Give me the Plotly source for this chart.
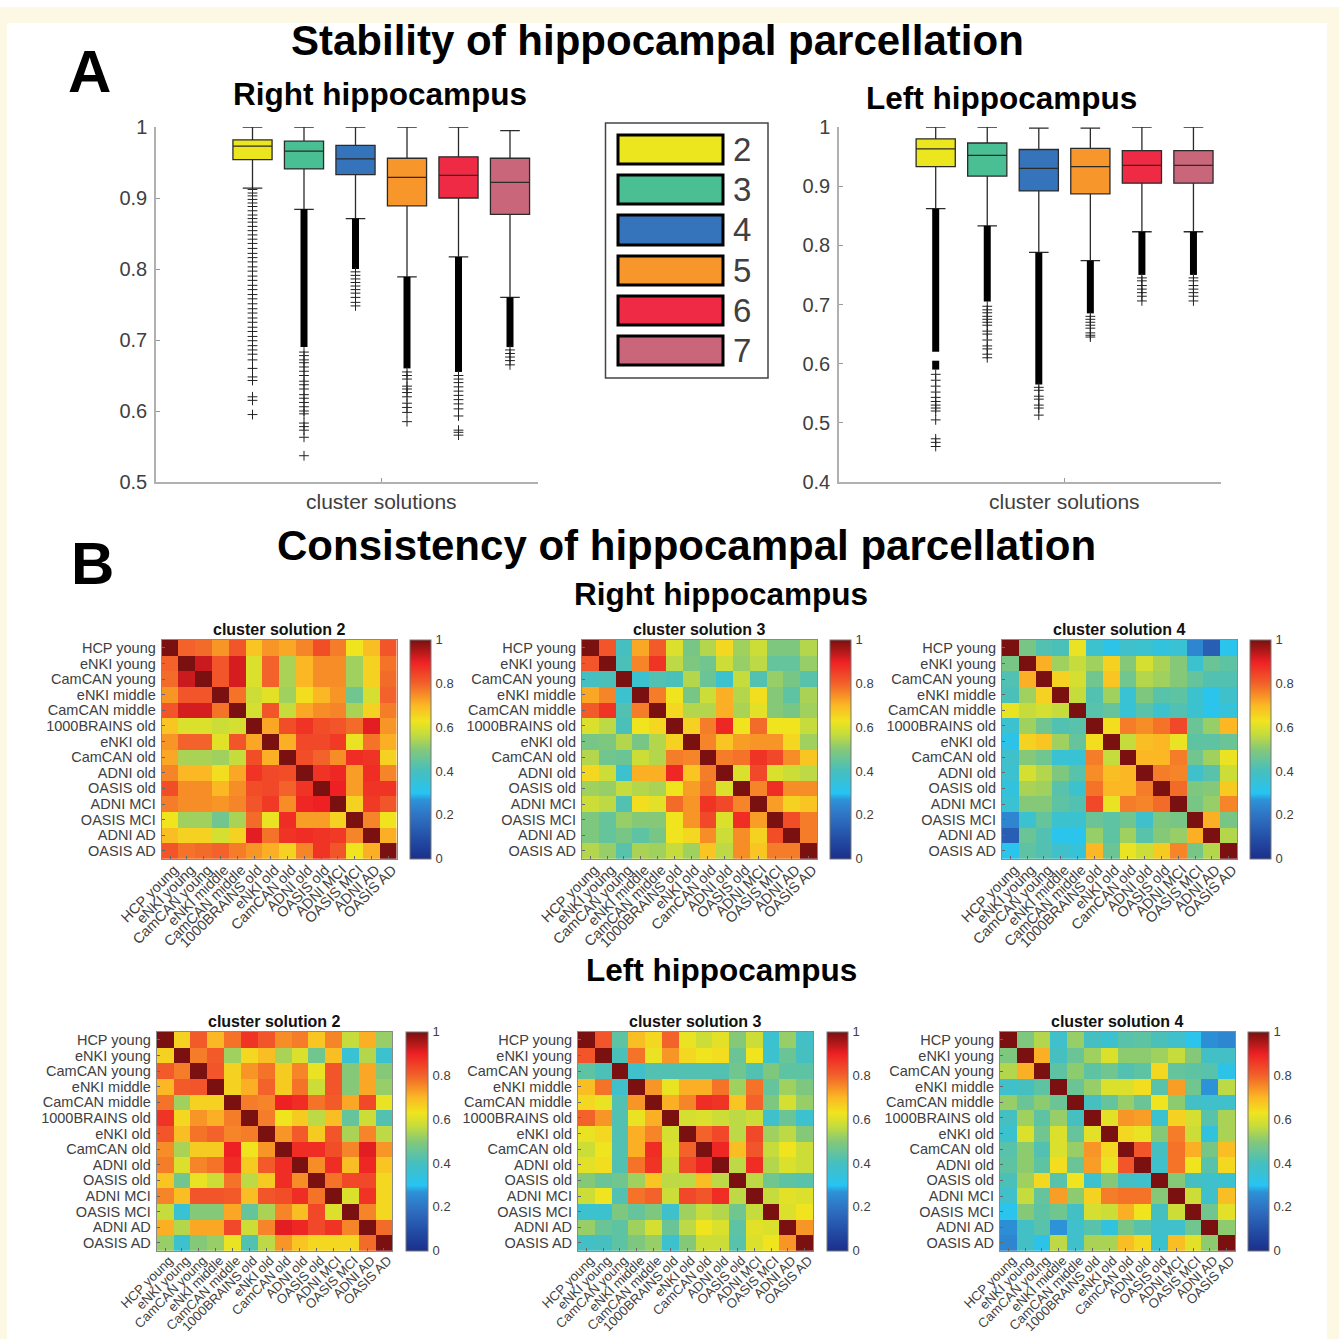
import plotly.graph_objects as go

W = H = 1339
FONT = "Liberation Sans"
GREY = "#404040"

regions = ["HCP young", "eNKI young", "CamCAN young", "eNKI middle", "CamCAN middle",
           "1000BRAINS old", "eNKI old", "CamCAN old", "ADNI old", "OASIS old",
           "ADNI MCI", "OASIS MCI", "ADNI AD", "OASIS AD"]
solutions = ["2", "3", "4", "5", "6", "7"]
box_colors = ["#ebe61e", "#4bbf94", "#3573ba", "#f7962a", "#ee2a45", "#c9667a"]

# Panel A, right hippocampus
r_q3 = [.982, .980, .974, .956, .958, .956]
r_med = [.973, .966, .955, .929, .932, .922]
r_q1 = [.954, .941, .933, .889, .900, .877]
r_hi = [1.0, 1.0, 1.0, 1.0, 1.0, .995]
r_lo = [.914, .884, .871, .789, .817, .760]
r_bands = [[], [(.884, .69)], [(.871, .80)], [(.789, .66)], [(.817, .655)], [(.76, .69)]]
r_out = [
    [.912, .907, .903, .898, .893, .888, .882, .876, .871, .866, .860, .854, .848, .842, .836, .829,
     .822, .816, .810, .803, .797, .790, .784, .777, .771, .764, .758, .751, .744, .738, .731, .725,
     .718, .712, .705, .699, .692, .686, .680, .672, .660, .648, .643, .620, .615, .595],
    [.683, .678, .672, .668, .662, .656, .650, .642, .637, .631, .623, .618, .612, .606, .600, .596,
     .583, .578, .573, .563, .537],
    [.796, .791, .786, .781, .776, .771, .766, .760, .753, .748],
    [.655, .650, .645, .635, .631, .626, .620, .611, .605, .598, .585],
    [.650, .645, .640, .634, .628, .622, .616, .610, .603, .593, .573, .570, .566],
    [.686, .681, .676, .671, .665],
]

# Panel A, left hippocampus
l_q3 = [.980, .973, .962, .964, .960, .960]
l_med = [.963, .952, .930, .933, .935, .935]
l_q1 = [.933, .917, .892, .887, .905, .905]
l_hi = [1.0, 1.0, .998, .998, 1.0, 1.0]
l_lo = [.862, .833, .788, .774, .823, .823]
l_bands = [[(.862, .62), (.605, .59)], [(.833, .705)], [(.788, .565)], [(.774, .685)], [(.823, .75)], [(.823, .75)]]
l_out = [
    [.582, .572, .562, .552, .543, .536, .530, .525, .520, .505, .473, .467, .460],
    [.697, .691, .686, .680, .675, .670, .665, .655, .650, .640, .630, .625, .616, .610],
    [.560, .555, .545, .540, .530, .525, .513],
    [.680, .675, .670, .665, .660, .652, .648, .645],
    [.745, .740, .732, .726, .720, .714, .706],
    [.745, .740, .732, .726, .720, .714, .706],
]

# Panel B: upper triangles read row by row
right_2 = [
    [1, .80, .79, .74, .82, .68, .74, .72, .76, .83, .77, .63, .69, .82],
    [1, .93, .82, .92, .60, .80, .54, .70, .75, .75, .53, .66, .78],
    [1, .82, .92, .60, .80, .54, .70, .75, .75, .53, .66, .79],
    [1, .78, .58, .61, .53, .64, .70, .74, .47, .59, .80],
    [1, .59, .82, .57, .72, .75, .76, .54, .66, .77],
    [1, .72, .83, .87, .83, .82, .79, .91, .74],
    [1, .71, .84, .84, .86, .62, .78, .71],
    [1, .83, .80, .75, .88, .87, .66],
    [1, .87, .89, .73, .88, .76],
    [1, .90, .73, .87, .87],
    [1, .66, .86, .82],
    [1, .76, .63],
    [1, .71],
    [1],
]
right_3 = [
    [1, .82, .40, .72, .81, .60, .48, .55, .65, .53, .58, .49, .49, .55],
    [1, .41, .76, .87, .56, .49, .47, .58, .52, .56, .45, .45, .52],
    [1, .37, .42, .41, .55, .46, .37, .57, .42, .52, .48, .43],
    [1, .77, .63, .48, .58, .71, .55, .64, .50, .44, .54],
    [1, .65, .55, .55, .71, .54, .61, .50, .48, .53],
    [1, .66, .77, .89, .63, .79, .63, .63, .57],
    [1, .76, .68, .73, .74, .74, .65, .53],
    [1, .77, .78, .87, .84, .75, .68],
    [1, .60, .84, .60, .58, .56],
    [1, .76, .88, .75, .75],
    [1, .73, .66, .68],
    [1, .83, .77],
    [1, .77],
    [1],
]
right_4 = [
    [1, .48, .42, .41, .62, .37, .32, .38, .37, .34, .36, .24, .14, .31],
    [1, .71, .53, .57, .53, .66, .50, .59, .54, .50, .37, .46, .44],
    [1, .66, .59, .47, .68, .47, .55, .53, .50, .45, .42, .42],
    [1, .57, .42, .53, .36, .49, .43, .44, .37, .31, .38],
    [1, .43, .45, .36, .43, .37, .42, .37, .31, .35],
    [1, .64, .77, .75, .78, .84, .46, .52, .70],
    [1, .57, .69, .70, .62, .44, .44, .46],
    [1, .70, .70, .77, .47, .53, .62],
    [1, .77, .76, .38, .43, .58],
    [1, .79, .49, .50, .67],
    [1, .48, .52, .76],
    [1, .71, .48],
    [1, .55],
    [1],
]
left_2 = [
    [1, .66, .81, .70, .78, .87, .82, .75, .77, .68, .76, .57, .71, .52],
    [1, .77, .81, .53, .65, .69, .54, .60, .47, .69, .36, .55, .37],
    [1, .82, .66, .74, .78, .67, .76, .62, .82, .50, .72, .50],
    [1, .66, .71, .80, .67, .78, .58, .82, .50, .72, .52],
    [1, .77, .76, .90, .88, .78, .81, .72, .84, .62],
    [1, .77, .63, .67, .56, .69, .45, .58, .42],
    [1, .74, .81, .67, .82, .54, .76, .56],
    [1, .88, .88, .83, .76, .91, .74],
    [1, .75, .88, .69, .89, .68],
    [1, .78, .84, .84, .65],
    [1, .60, .87, .65],
    [1, .76, .65],
    [1, .79],
    [1],
]
left_3 = [
    [1, .82, .44, .69, .65, .80, .62, .58, .61, .50, .58, .37, .52, .39],
    [1, .41, .78, .62, .74, .65, .63, .64, .46, .63, .37, .46, .40],
    [1, .38, .42, .42, .42, .42, .42, .47, .42, .49, .44, .44],
    [1, .74, .62, .71, .71, .78, .53, .78, .45, .53, .49],
    [1, .71, .76, .88, .87, .68, .80, .49, .59, .52],
    [1, .59, .60, .58, .56, .58, .38, .46, .37],
    [1, .80, .84, .56, .84, .53, .56, .50],
    [1, .89, .69, .82, .57, .63, .58],
    [1, .56, .88, .55, .60, .58],
    [1, .56, .47, .44, .43],
    [1, .57, .61, .60],
    [1, .60, .63],
    [1, .74],
    [1],
]
left_4 = [
    [1, .49, .55, .38, .52, .40, .37, .43, .44, .41, .38, .31, .26, .24],
    [1, .71, .40, .46, .53, .60, .51, .51, .53, .57, .50, .39, .39],
    [1, .44, .51, .44, .47, .42, .44, .65, .45, .44, .43, .32],
    [1, .46, .52, .60, .60, .64, .43, .73, .47, .27, .56],
    [1, .40, .45, .52, .46, .63, .51, .39, .38, .38],
    [1, .61, .74, .73, .37, .66, .59, .43, .54],
    [1, .65, .62, .50, .77, .58, .34, .54],
    [1, .82, .40, .78, .71, .48, .69],
    [1, .38, .78, .63, .43, .65],
    [1, .50, .40, .38, .37],
    [1, .58, .38, .69],
    [1, .47, .61],
    [1, .51],
    [1],
]

colorscale = [[0, "#1b2f8c"], [.1, "#2450a8"], [.2, "#2f74c4"], [.27, "#2c93d8"], [.3, "#27c4f2"],
              [.4, "#45bfc0"], [.5, "#84c878"], [.57, "#c6dc3c"], [.63, "#f0e41e"], [.7, "#fbb824"],
              [.8, "#f2622a"], [.9, "#ee2024"], [.95, "#b01818"], [1, "#7a1010"]]


def px(x):
    return x / W


def py(y):
    return 1 - y / H


def full(tri):
    n = len(tri)
    m = [[0] * n for _ in range(n)]
    for i, row in enumerate(tri):
        for k, v in enumerate(row):
            m[i][i + k] = v
            m[i + k][i] = v
    return m


fig = go.Figure()
layout = {}
annotations = []

# ---------- Panel A ----------
A_PANELS = [
    dict(q3=r_q3, med=r_med, q1=r_q1, hi=r_hi, lo=r_lo, bands=r_bands, out=r_out,
         x0=156, x1=538, first=252.5, step=51.5, ymin=.5, label_x=381),
    dict(q3=l_q3, med=l_med, q1=l_q1, hi=l_hi, lo=l_lo, bands=l_bands, out=l_out,
         x0=839, x1=1221, first=935.7, step=51.55, ymin=.4, label_x=1064.5),
]
for p, P in enumerate(A_PANELS):
    ax = p + 1
    xa, ya = ("x", "y") if ax == 1 else (f"x{ax}", f"y{ax}")
    pos = list(range(1, 7))
    for k in range(6):
        for top, bot in P["bands"][k]:
            fig.add_trace(go.Scatter(x=[pos[k], pos[k]], y=[top, bot], mode="lines", xaxis=xa, yaxis=ya,
                                     line=dict(color="black", width=7), showlegend=False, hoverinfo="skip"))
        fig.add_trace(go.Scatter(x=[pos[k]] * len(P["out"][k]), y=P["out"][k], mode="markers", xaxis=xa, yaxis=ya,
                                 marker=dict(symbol="cross-thin", size=7, line=dict(color="#222222", width=1)),
                                 showlegend=False, hoverinfo="skip"))
        fig.add_trace(go.Box(x=[pos[k]], q1=[P["q1"][k]], median=[P["med"][k]], q3=[P["q3"][k]],
                             lowerfence=[P["lo"][k]], upperfence=[P["hi"][k]], boxpoints=False,
                             width=.76, whiskerwidth=.5, fillcolor=box_colors[k],
                             line=dict(color="#2b2b2b", width=1.3), xaxis=xa, yaxis=ya,
                             showlegend=False, name=solutions[k]))
    lo_k = (P["x0"] - P["first"]) / P["step"] + 1
    hi_k = (P["x1"] - P["first"]) / P["step"] + 1
    layout["xaxis" if ax == 1 else f"xaxis{ax}"] = dict(
        domain=[px(P["x0"]), px(P["x1"])], range=[lo_k, hi_k], anchor=ya,
        tickmode="array", tickvals=[3.5], ticktext=[""], ticks="inside", ticklen=4, tickcolor="#999999",
        showline=True, linecolor="#b0b0b0", linewidth=1.5, showgrid=False, zeroline=False)
    annotations.append(dict(text="cluster solutions", x=px(P["label_x"]), y=py(502), xref="paper", yref="paper",
                            showarrow=False, xanchor="center", yanchor="middle",
                            font=dict(family=FONT, size=21, color=GREY)))
    ticks = [P["ymin"] + .1 * i for i in range(int(round((1 - P["ymin"]) * 10)) + 1)]
    layout["yaxis" if ax == 1 else f"yaxis{ax}"] = dict(
        domain=[py(482), py(127)], range=[P["ymin"], 1], anchor=xa,
        tickmode="array", tickvals=ticks, ticktext=[f"{t:.1f}" if t < .99 else "1" for t in ticks],
        ticks="inside", ticklen=4, tickcolor="#999999", tickfont=dict(family=FONT, size=20, color=GREY),
        ticklabelstandoff=3,
        showline=True, linecolor="#b0b0b0", linewidth=1.5, showgrid=False, zeroline=False)

# ---------- Panel B ----------
B_PANELS = [
    (right_2, "cluster solution 2", 161.7, 396.7, 640, 858.7, 410, 430.7, 14.5),
    (right_3, "cluster solution 3", 582, 817, 640, 858.7, 830, 851, 14.5),
    (right_4, "cluster solution 4", 1002, 1237, 640, 858.7, 1250, 1271, 14.5),
    (left_2, "cluster solution 2", 156.7, 392.3, 1032, 1250.7, 405.7, 428, 13.2),
    (left_3, "cluster solution 3", 578, 813, 1032, 1250.7, 827, 848, 13.2),
    (left_4, "cluster solution 4", 1000, 1235, 1032, 1250.7, 1248, 1269, 13.2),
]
for p, (tri, title, x0, x1, y0, y1, c0, c1, xfont) in enumerate(B_PANELS):
    ax = p + 3
    xa, ya = f"x{ax}", f"y{ax}"
    fig.add_trace(go.Heatmap(
        z=full(tri), x=regions, y=regions, zmin=0, zmax=1, colorscale=colorscale, xaxis=xa, yaxis=ya,
        colorbar=dict(x=px(c0), xanchor="left", xpad=0, y=py(y1), yanchor="bottom", ypad=0,
                      len=(y1 - y0) / H, lenmode="fraction", thickness=c1 - c0, thicknessmode="pixels",
                      tickmode="array", tickvals=[0, .2, .4, .6, .8, 1], ticktext=["0", "0.2", "0.4", "0.6", "0.8", "1"],
                      ticks="outside", ticklen=2, tickcolor="rgba(0,0,0,0)",
                      tickfont=dict(family=FONT, size=13, color=GREY), outlinecolor="#777777", outlinewidth=1)))
    layout[f"xaxis{ax}"] = dict(domain=[px(x0), px(x1)], anchor=ya, tickangle=-45, ticks="inside", ticklen=3,
                                tickcolor="#666666", tickfont=dict(family=FONT, size=xfont, color=GREY),
                                ticklabelshift=4, ticklabelstandoff=-4,
                                showline=True, mirror=True, linecolor="#8a8a8a", linewidth=1, showgrid=False,
                                tickmode="array", tickvals=regions, ticktext=regions)
    layout[f"yaxis{ax}"] = dict(domain=[py(y1), py(y0)], anchor=xa, autorange="reversed", ticks="inside", ticklen=3,
                                tickcolor="#666666", tickfont=dict(family=FONT, size=14.5, color=GREY),
                                ticklabelstandoff=2,
                                showline=True, mirror=True, linecolor="#8a8a8a", linewidth=1, showgrid=False,
                                tickmode="array", tickvals=regions, ticktext=regions)
    annotations.append(dict(text=f"<b>{title}</b>", x=px((x0 + x1) / 2), y=py(y0 - 11), xref="paper", yref="paper",
                            showarrow=False, xanchor="center", yanchor="middle",
                            font=dict(family=FONT, size=16, color="#111111")))

# ---------- Headings ----------
for text, cx, cy, size in [
    ("Stability of hippocampal parcellation", 657, 40, 42),
    ("Right hippocampus", 380, 94, 31.5),
    ("Left hippocampus", 1001, 98, 31.5),
    ("Consistency of hippocampal parcellation", 686, 545, 42),
    ("Right hippocampus", 721, 594, 31.5),
    ("Left hippocampus", 721, 970, 31.5),
    ("A", 89, 72, 60),
    ("B", 92, 563, 60),
]:
    annotations.append(dict(text=f"<b>{text}</b>", x=px(cx), y=py(cy), xref="paper", yref="paper", showarrow=False,
                            xanchor="center", yanchor="middle", font=dict(family=FONT, size=size, color="black")))

# ---------- Background strips and legend ----------
CREAM = "#fdf8e3"
shapes = [
    dict(type="rect", xref="paper", yref="paper", x0=0, x1=1, y0=py(23), y1=py(7), fillcolor=CREAM, line_width=0, layer="below"),
    dict(type="rect", xref="paper", yref="paper", x0=0, x1=px(7), y0=0, y1=py(7), fillcolor=CREAM, line_width=0, layer="below"),
    dict(type="rect", xref="paper", yref="paper", x0=px(1327), x1=1, y0=0, y1=py(7), fillcolor=CREAM, line_width=0, layer="below"),
    dict(type="rect", xref="paper", yref="paper", x0=px(605.5), x1=px(768), y0=py(378), y1=py(123),
         fillcolor="white", line=dict(color="#444444", width=1.5)),
]
swatch_rows = [(135, 164), (175, 204), (215, 245), (256, 285), (296, 325), (336, 365)]
for (t, b), c, s in zip(swatch_rows, box_colors, solutions):
    shapes.append(dict(type="rect", xref="paper", yref="paper", x0=px(618), x1=px(723), y0=py(b), y1=py(t),
                       fillcolor=c, line=dict(color="black", width=3)))
    annotations.append(dict(text=s, x=px(742), y=py((t + b) / 2), xref="paper", yref="paper", showarrow=False,
                            xanchor="center", yanchor="middle", font=dict(family=FONT, size=33, color=GREY)))

fig.update_layout(width=W, height=H, margin=dict(l=0, r=0, t=0, b=0, autoexpand=False), paper_bgcolor="white", plot_bgcolor="white",
                  showlegend=False, annotations=annotations, shapes=shapes, **layout)
fig.write_html("out.html", config={"displayModeBar": False},
               post_script="document.body.style.margin='0';document.documentElement.style.overflow='hidden';")
